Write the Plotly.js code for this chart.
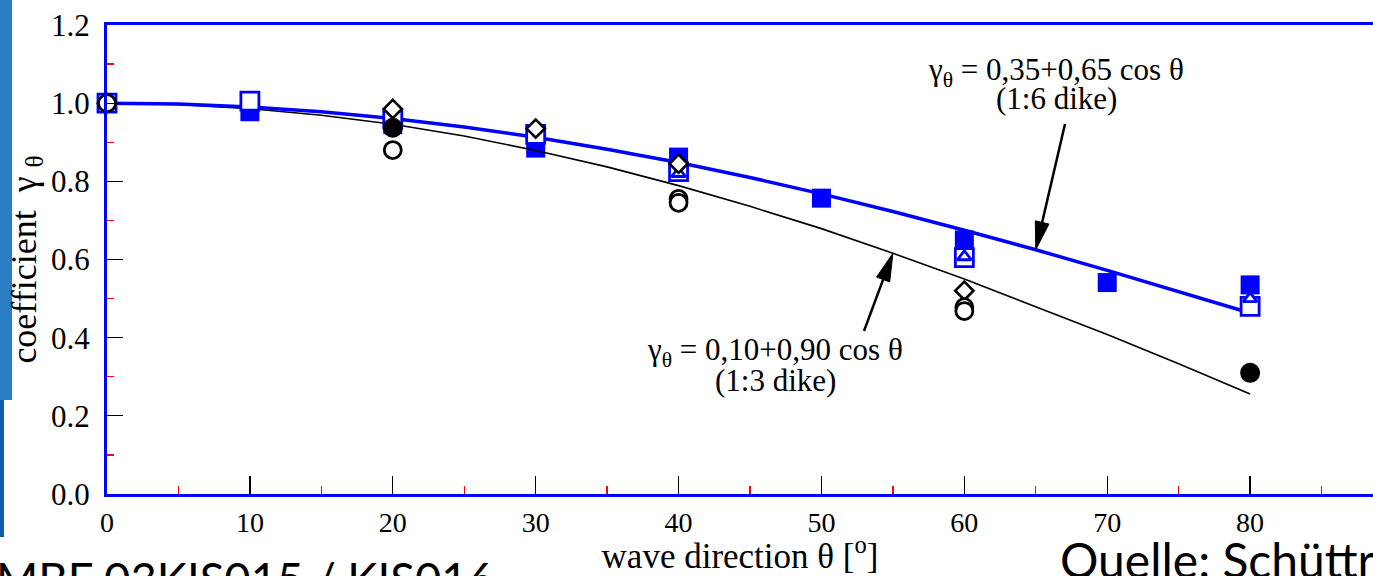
<!DOCTYPE html>
<html>
<head>
<meta charset="utf-8">
<script src="https://cdn.plot.ly/plotly-3.0.1.min.js"></script>
<style>html,body{margin:0;padding:0;background:#fff;}#chart{width:1373px;height:576px;}</style>
</head>
<body>
<div id="chart"></div>
<script>
// ---- data ----
var thetaCurve = [0, 5, 10, 15, 20, 25, 30, 35, 40, 45, 50, 55, 60, 65, 70, 75, 80];
var curveDike16 = [1.000, 0.998, 0.990, 0.978, 0.961, 0.939, 0.913, 0.882, 0.848, 0.810, 0.768, 0.723, 0.675, 0.625, 0.572, 0.518, 0.463];
var curveDike13 = [1.000, 0.997, 0.986, 0.969, 0.946, 0.916, 0.879, 0.837, 0.789, 0.736, 0.679, 0.616, 0.550, 0.480, 0.408, 0.333, 0.256];

var filledSqX = [0, 10, 20, 30, 40, 50, 60, 70, 80];
var filledSqY = [1.000, 0.978, 0.945, 0.885, 0.862, 0.757, 0.650, 0.541, 0.535];
var openSqX = [0, 10, 20, 30, 40, 60, 80];
var openSqY = [1.000, 1.005, 0.960, 0.920, 0.825, 0.605, 0.480];
var triX = [0, 40, 60, 80];
var triY = [1.000, 0.820, 0.607, 0.500];
var diaX = [0, 20, 30, 40, 60];
var diaY = [1.000, 0.985, 0.935, 0.845, 0.520];
var openCircX = [0, 20, 40, 40, 60, 60];
var openCircY = [1.000, 0.880, 0.755, 0.745, 0.478, 0.468];
var filledCircX = [20, 80];
var filledCircY = [0.937, 0.310];

var xTicks = [0, 10, 20, 30, 40, 50, 60, 70, 80];
var eq16 = ['γ<sub>θ</sub> = 0,35+0,65 cos θ', '(1:6 dike)'];
var eq13 = ['γ<sub>θ</sub> = 0,10+0,90 cos θ', '(1:3 dike)'];
var footLeft = 'MBF 03KIS015 / KIS016';
var footRight = 'Quelle: Schüttrumpf';

// ---- layout helpers ----
var W = 1373, H = 576, ML = 107, MR = 0, MT = 25, MB = 82;
var PW = W - ML - MR, PH = H - MT - MB;
var XMAX = 88.6, YMAX = 1.2;
function px(x) { return (x - ML) / PW; }
function py(y) { return (H - MB - y) / PH; }
function dataToPix(xv, yv) { return [ML + xv / XMAX * PW, H - MB - yv / YMAX * PH]; }

var BLUE = '#0000ff';
var serif = 'Liberation Serif, Times New Roman, serif';

var traces = [
  {x: filledSqX, y: filledSqY, mode: 'markers', type: 'scatter', cliponaxis: false,
   marker: {symbol: 'square', size: 19, color: BLUE, line: {width: 0}}},
  {x: thetaCurve, y: curveDike13, mode: 'lines', type: 'scatter', cliponaxis: false,
   line: {color: '#000000', width: 1.6}},
  {x: thetaCurve, y: curveDike16, mode: 'lines', type: 'scatter', cliponaxis: false,
   line: {color: BLUE, width: 3.5}},
  {x: openSqX, y: openSqY, mode: 'markers', type: 'scatter', cliponaxis: false,
   marker: {symbol: 'square', size: 18, color: '#ffffff', line: {color: BLUE, width: 2.8}}},
  {x: triX, y: triY, mode: 'markers', type: 'scatter', cliponaxis: false,
   marker: {symbol: 'triangle-up', size: 12, color: '#ffffff', line: {color: BLUE, width: 2.8}}},
  {x: diaX, y: diaY, mode: 'markers', type: 'scatter', cliponaxis: false,
   marker: {symbol: 'diamond', size: 14, color: '#ffffff', line: {color: '#000000', width: 2.6}}},
  {x: openCircX, y: openCircY, mode: 'markers', type: 'scatter', cliponaxis: false,
   marker: {symbol: 'circle', size: 17, color: '#ffffff', line: {color: '#000000', width: 2.8}}},
  {x: filledCircX, y: filledCircY, mode: 'markers', type: 'scatter', cliponaxis: false,
   marker: {symbol: 'circle', size: 20, color: '#000000', line: {width: 0}}}
];

var annotations = [
  {xref: 'paper', yref: 'paper', x: px(1056), y: py(72), text: eq16[0], showarrow: false,
   font: {family: serif, size: 31, color: '#000'}, xanchor: 'center', yanchor: 'middle'},
  {xref: 'paper', yref: 'paper', x: px(1056), y: py(99), text: eq16[1], showarrow: false,
   font: {family: serif, size: 31, color: '#000'}, xanchor: 'center', yanchor: 'middle'},
  {xref: 'paper', yref: 'paper', x: px(775), y: py(352), text: eq13[0], showarrow: false,
   font: {family: serif, size: 31, color: '#000'}, xanchor: 'center', yanchor: 'middle'},
  {xref: 'paper', yref: 'paper', x: px(775), y: py(380), text: eq13[1], showarrow: false,
   font: {family: serif, size: 31, color: '#000'}, xanchor: 'center', yanchor: 'middle'},
  // slide footer texts
  {xref: 'paper', yref: 'paper', x: px(-6), y: py(549), text: footLeft, showarrow: false,
   font: {family: 'Lato, sans-serif', size: 45.5, color: '#000'}, xanchor: 'left', yanchor: 'top'},
  {xref: 'paper', yref: 'paper', x: px(1058), y: py(529), text: footRight, showarrow: false,
   font: {family: 'Lato, sans-serif', size: 48, color: '#000'}, xanchor: 'left', yanchor: 'top'}
];

// arrows (line + slim filled head) from a label towards a curve point
function arrowShapes(tail, tipData) {
  var tip = dataToPix(tipData[0], tipData[1]);
  var dx = tip[0] - tail[0], dy = tip[1] - tail[1];
  var L = Math.sqrt(dx * dx + dy * dy), ux = dx / L, uy = dy / L;
  var headLen = 28, headHalf = 7;
  var bx = tip[0] - ux * headLen, by = tip[1] - uy * headLen;
  var p1 = [bx - uy * headHalf, by + ux * headHalf], p2 = [bx + uy * headHalf, by - ux * headHalf];
  return [
    {type: 'line', xref: 'paper', yref: 'paper', x0: px(tail[0]), y0: py(tail[1]), x1: px(bx + ux * 4), y1: py(by + uy * 4),
     line: {color: '#000', width: 2.5}},
    {type: 'path', xref: 'paper', yref: 'paper',
     path: 'M' + px(tip[0]) + ',' + py(tip[1]) + 'L' + px(p1[0]) + ',' + py(p1[1]) + 'L' + px(p2[0]) + ',' + py(p2[1]) + 'Z',
     fillcolor: '#000', line: {color: '#000', width: 1}}
  ];
}

var shapes = [
  {type: 'rect', xref: 'paper', yref: 'paper', x0: px(0), x1: px(12), y0: py(400), y1: py(0),
   fillcolor: '#2a7fc4', line: {width: 0}, layer: 'below'},
  {type: 'rect', xref: 'paper', yref: 'paper', x0: px(0), x1: px(4), y0: py(537), y1: py(400),
   fillcolor: '#0d5fae', line: {width: 0}, layer: 'below'}
].concat(
  arrowShapes([1065, 124], [thetaCurve[13], curveDike16[13]]),
  arrowShapes([864, 331], [thetaCurve[11], curveDike13[11]])
);

var layout = {
  width: W, height: H,
  margin: {l: ML, r: MR, t: MT, b: MB, pad: 0},
  paper_bgcolor: '#ffffff', plot_bgcolor: '#ffffff',
  showlegend: false,
  xaxis: {
    range: [0, XMAX], tickmode: 'array', tickvals: xTicks,
    ticks: 'inside', ticklen: 18, tickwidth: 1.3, tickcolor: '#000',
    minor: {dtick: 5, tick0: 0, ticks: 'inside', ticklen: 8, tickwidth: 1.3, tickcolor: '#ff0000', showgrid: false},
    showline: true, linecolor: BLUE, linewidth: 3, mirror: true,
    showgrid: false, zeroline: false,
    tickfont: {family: serif, size: 28, color: '#000'},
    ticklabelstandoff: 1,
    title: {text: 'wave direction θ [<sup>o</sup>]', font: {family: serif, size: 35, color: '#000'}, standoff: 2}
  },
  yaxis: {
    range: [0, YMAX], dtick: 0.2, tick0: 0, tickformat: '.1f',
    ticks: 'inside', ticklen: 16, tickwidth: 1.3, tickcolor: '#000',
    minor: {dtick: 0.1, tick0: 0, ticks: 'inside', ticklen: 7, tickwidth: 1.3, tickcolor: '#ff0000', showgrid: false},
    showline: true, linecolor: BLUE, linewidth: 3, mirror: false,
    showgrid: false, zeroline: false,
    tickfont: {family: serif, size: 31, color: '#000'},
    ticklabelstandoff: 8,
    title: {text: 'coefficient  γ <sub>θ</sub>', font: {family: serif, size: 36, color: '#000'}, standoff: 4}
  },
  annotations: annotations,
  shapes: shapes
};

Plotly.newPlot('chart', traces, layout, {displayModeBar: false, staticPlot: true});
</script>
</body>
</html>
